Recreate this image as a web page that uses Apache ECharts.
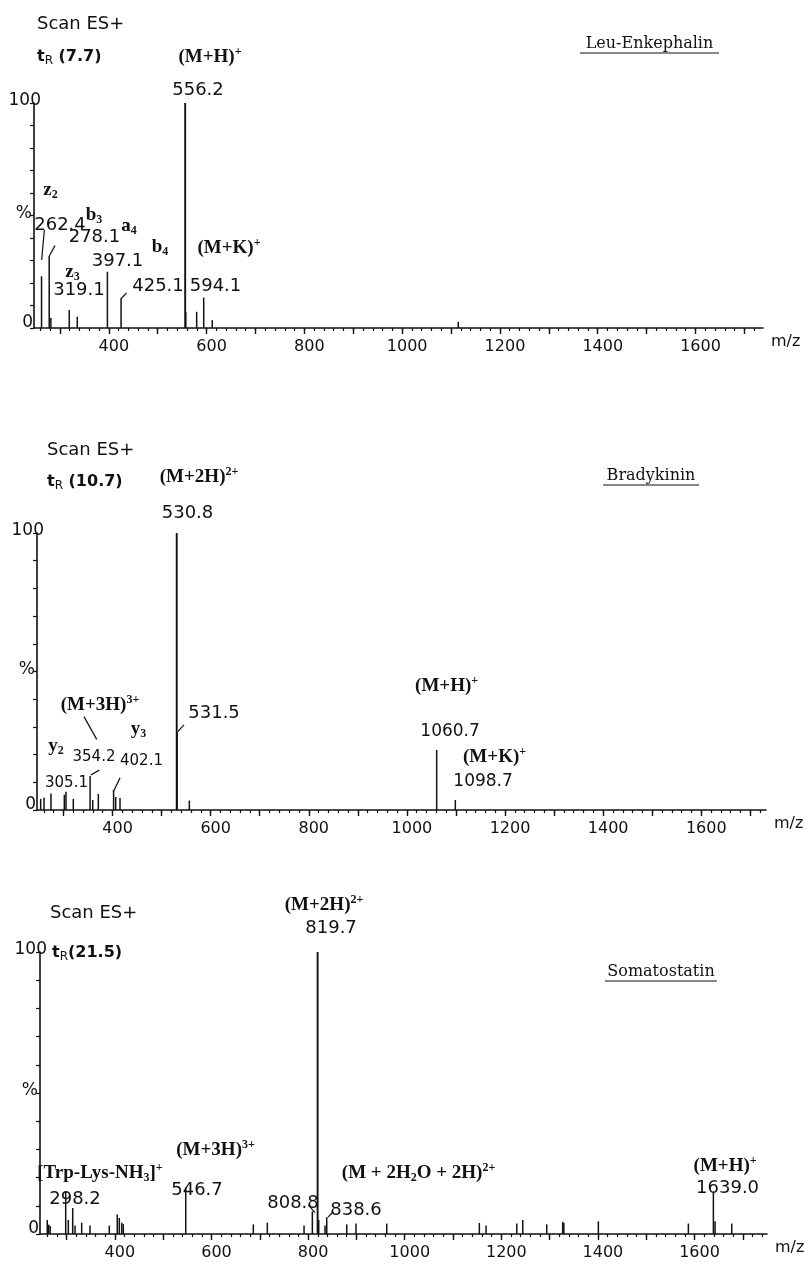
<!DOCTYPE html>
<html><head><meta charset="utf-8">
<script src="https://cdn.jsdelivr.net/npm/echarts@6/dist/echarts.min.js"></script>
<style>html,body{margin:0;padding:0;background:#fff}#c{width:808px;height:1266px}</style>
</head><body><div id="c"></div>
<script>
// ---------------- data (m/z, relative intensity %) ----------------
const leuPeaks = [[262.4,23],[278.1,32],[281.5,4.4],[319.1,8],[335.5,5],[397.1,25],[425.1,13],[556.2,100],[557.4,7],[579.7,7.2],[594.1,13.5],[611.6,3.5],[1114.7,2.8]];
const bradyPeaks = [[253.5,4],[260.3,4.5],[274.5,6],[301.7,5.5],[305.1,6.6],[320,4],[354.2,12.3],[359.6,3.6],[371,5.8],[402.1,7.2],[406.4,4.7],[415.2,4.3],[530.8,100],[531.5,28],[556.5,3.4],[1060.7,21.7],[1098.7,3.6]];
const somaPeaks = [[260,5],[263,3.3],[266,2.8],[298.2,15],[303.6,5],[312.7,9.2],[317.5,3],[331.3,4],[348.5,3],[388.5,3],[405,6.9],[409.2,5.7],[414.2,4],[417.5,3.5],[546.7,16.5],[686.6,3.4],[715.6,4],[791.6,3],[808.8,8],[819.7,100],[822,5],[835,3],[838.6,6],[880,3.4],[899.2,3.7],[962.8,3.7],[1154.5,3.9],[1168.4,3],[1232,3.7],[1244.4,5],[1294,3.4],[1327,4.3],[1329.5,4],[1400.9,4.5],[1587.2,3.7],[1639.0,15],[1642.5,4.5],[1677,3.7]];

// axis ticks / labels
const xTickLabels = [400,600,800,1000,1200,1400,1600];
const xMajorTicks = [300,400,500,600,700,800,900,1000,1100,1200,1300,1400,1500,1600,1700];
const xMinorTicks = [];
for (let v = 260; v <= 1740; v += 20) xMinorTicks.push(v);
const yLabelValues = [0,50,100];

// annotation texts: [text, m/z, %] anchored in data space
const leuLabels = [
  ['{i|(M+H)}{p|+}',607,120.4],['{n|556.2}',582.4,105.8],
  ['{i|z}{b|2}',280.7,61.3],['{i|b}{b|3}',369.7,50.2],['{n|262.4}',300.2,45.8],
  ['{i|a}{b|4}',441.3,45.3],['{n|278.1}',370.7,40.4],['{i|b}{b|4}',504.7,36],
  ['{i|(M+K)}{p|+}',645.8,35.6],['{i|z}{b|3}',325.7,24.9],['{n|397.1}',417.8,29.8],
  ['{n|319.1}',339,16.9],['{n|425.1}',500.6,18.7],['{n|594.1}',618.2,18.7]
];
const leuLeaders = [[268.1,43.6,262.7,30.2],[289.9,36.6,278.3,32],[436.6,15.6,424.3,12.9]];

const bradyLabels = [
  ['{i|(M+2H)}{p|2+}',576.3,120.2],['{n|530.8}',552.8,107.2],
  ['{i|(M+3H)}{p|3+}',374.4,37.9],['{n|531.5}',606.9,35],['{i|y}{b|3}',452.9,29.2],
  ['{i|y}{b|2}',284.7,23.1],['{s|354.2}',362.2,19.1],['{s|402.1}',459,17.7],['{s|305.1}',306.1,9.7],
  ['{i|(M+H)}{p|+}',1080.9,44.8],['{m|1060.7}',1088,28.2],['{i|(M+K)}{p|+}',1178.7,19.1],['{m|1098.7}',1155.3,10.1]
];
const bradyLeaders = [[545.7,30.7,532.9,28.3],[341.8,33.7,367.7,25.5],[373,14.4,355.5,12.6],[415.2,11.6,401.6,6.6]];

const somaLabels = [
  ['{i|(M+2H)}{p|2+}',833,116.7],['{n|819.7}',847.5,108.5],
  ['{i|(M+3H)}{p|3+}',608.4,29.8],['{i|[Trp-Lys-NH}{b|3}{i|]}{p|+}',369.2,21.6],
  ['{n|298.2}',317.5,12.4],['{n|546.7}',570,15.6],['{n|808.8}',768.8,11],['{n|838.6}',899.2,8.5],
  ['{i|(M + 2H}{b|2}{i|O + 2H)}{p|2+}',1028.6,21.6],['{i|(M+H)}{p|+}',1663.2,24.1],['{n|1639.0}',1668.4,16.3]
];
const somaLeaders = [[851.6,7.8,841.3,6],[800.5,10.3,814.3,7.6]];

// ---------------- layout ----------------
const INK = '#111';
const SANS = 'DejaVu Sans', TIMES = 'Liberation Serif';
const panels = [
  {grid:{left:34,top:103,width:729,height:225}, min:247, max:1738, peaks:leuPeaks, labels:leuLabels, leaders:leuLeaders},
  {grid:{left:37,top:533,width:729,height:277}, min:246, max:1732, peaks:bradyPeaks, labels:bradyLabels, leaders:bradyLeaders},
  {grid:{left:40,top:952,width:727,height:282}, min:245, max:1750, peaks:somaPeaks, labels:somaLabels, leaders:somaLeaders}
];
const rich = {
  n:{fontFamily:SANS,fontSize:18,color:INK,lineHeight:22},
  m:{fontFamily:SANS,fontSize:17,color:INK,lineHeight:22},
  s:{fontFamily:SANS,fontSize:15,color:INK,lineHeight:22},
  i:{fontFamily:TIMES,fontWeight:'bold',fontSize:19,color:INK,lineHeight:22},
  b:{fontFamily:TIMES,fontWeight:'bold',fontSize:12,color:INK,lineHeight:12,verticalAlign:'bottom'},
  p:{fontFamily:TIMES,fontWeight:'bold',fontSize:12,color:INK,lineHeight:12,verticalAlign:'top'}
};

const grid = [], xAxis = [], yAxis = [], series = [];
panels.forEach((P, k) => {
  grid.push(Object.assign({containLabel:false}, P.grid));
  xAxis.push({
    gridIndex:k, type:'value', min:P.min, max:P.max, position:'bottom',
    axisLine:{show:true,onZero:false,lineStyle:{color:INK,width:1.6}},
    axisTick:{show:true,customValues:xMajorTicks,length:6,lineStyle:{color:INK,width:1.4}},
    axisLabel:{show:true,customValues:xTickLabels,margin:11,fontFamily:SANS,fontSize:16,color:INK,
      padding:[0,0,0,10], formatter:v => String(v)},
    splitLine:{show:false},
    name:'m/z', nameLocation:'end', nameGap:8,
    nameTextStyle:{fontFamily:SANS,fontSize:16,color:INK,align:'left',verticalAlign:'top',padding:[6,0,0,0]}
  });
  xAxis.push({
    gridIndex:k, type:'value', min:P.min, max:P.max, position:'bottom',
    axisLine:{show:false,onZero:false},
    axisTick:{show:true,customValues:xMinorTicks,length:3,lineStyle:{color:INK,width:1.2}},
    axisLabel:{show:false}, splitLine:{show:false}
  });
  yAxis.push({
    gridIndex:k, type:'value', min:0, max:100, interval:10,
    axisLine:{show:true,lineStyle:{color:INK,width:1.6}},
    axisTick:{show:true,length:4,lineStyle:{color:INK,width:1.2}},
    splitLine:{show:false},
    axisLabel:{show:true,customValues:yLabelValues,margin:-7,
      formatter:v => v===0 ? '{z|0}' : (v===50 ? '{c|%}' : '{h|100}'),
      rich:{
        z:{fontFamily:SANS,fontSize:17,color:INK,padding:[0,8,11,0]},
        c:{fontFamily:SANS,fontSize:17,color:INK,padding:[0,9,4,0]},
        h:{fontFamily:SANS,fontSize:17,color:INK,padding:[0,0,5,0]}
      }}
  });
  const xi = 2*k, yi = k;
  series.push({
    type:'custom', xAxisIndex:xi, yAxisIndex:yi, silent:true, clip:false,
    data:P.peaks, encode:{x:0,y:1},
    renderItem:(params, api) => {
      const a = api.coord([api.value(0),0]), b = api.coord([api.value(0),api.value(1)]);
      const w = api.value(1) >= 50 ? 1.9 : 1.5;
      return {type:'line', shape:{x1:a[0],y1:a[1],x2:b[0],y2:b[1]}, style:{stroke:INK,lineWidth:w}};
    }
  });
  series.push({
    type:'custom', xAxisIndex:xi, yAxisIndex:yi, silent:true, clip:false,
    data:P.leaders, encode:{x:[0,2],y:[1,3]},
    renderItem:(params, api) => {
      const a = api.coord([api.value(0),api.value(1)]), b = api.coord([api.value(2),api.value(3)]);
      return {type:'line', shape:{x1:a[0],y1:a[1],x2:b[0],y2:b[1]}, style:{stroke:INK,lineWidth:1.2}};
    }
  });
  series.push({
    type:'custom', xAxisIndex:xi, yAxisIndex:yi, silent:true, clip:false,
    data:P.labels.map(l => [l[1], l[2]]), encode:{x:0,y:1},
    renderItem:(params, api) => {
      const l = P.labels[params.dataIndex];
      const c = api.coord([api.value(0), api.value(1)]);
      return {type:'text', x:c[0], y:c[1], style:{text:l[0], rich:rich, align:'center', verticalAlign:'middle', fill:INK}};
    }
  });
});

const tRich = {
  t:{fontFamily:SANS,fontWeight:'bold',fontSize:16,color:INK,lineHeight:20},
  r:{fontFamily:SANS,fontSize:12,color:INK,lineHeight:12,verticalAlign:'bottom'}
};
function headText(x, y, txt, r, font) {
  return {type:'text', x:x, y:y, silent:true, style:{text:txt, rich:r, font:font, fill:INK, align:'left', verticalAlign:'middle'}};
}
function titleText(cx, y, txt, x1, x2, uy) {
  return [
    {type:'text', x:cx, y:y, silent:true, style:{text:txt, font:'16px "DejaVu Serif"', fill:INK, align:'center', verticalAlign:'middle'}},
    {type:'line', silent:true, shape:{x1:x1,y1:uy,x2:x2,y2:uy}, style:{stroke:INK,lineWidth:1.2}}
  ];
}
const graphic = [
  headText(37, 24, 'Scan ES+', null, '18px "DejaVu Sans"'),
  headText(37, 57, '{t|t}{r|R}{t| (7.7)}', tRich),
  headText(47, 450, 'Scan ES+', null, '18px "DejaVu Sans"'),
  headText(47, 482, '{t|t}{r|R}{t| (10.7)}', tRich),
  headText(50, 913, 'Scan ES+', null, '18px "DejaVu Sans"'),
  headText(52, 953, '{t|t}{r|R}{t|(21.5)}', tRich)
].concat(
  titleText(649.5, 44, 'Leu-Enkephalin', 580, 719, 53),
  titleText(651, 476, 'Bradykinin', 603, 699, 485),
  titleText(661, 972, 'Somatostatin', 605, 717, 981)
);

const chart = echarts.init(document.getElementById('c'), null, {renderer:'canvas'});
chart.setOption({backgroundColor:'#fff', animation:false, grid, xAxis, yAxis, series, graphic});
</script></body></html>
